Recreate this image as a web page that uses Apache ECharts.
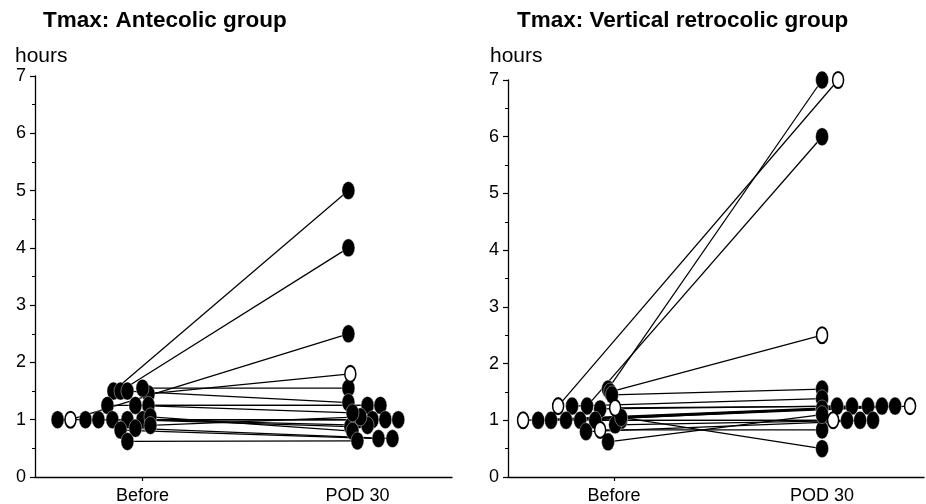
<!DOCTYPE html>
<html><head><meta charset="utf-8">
<script src="https://cdn.jsdelivr.net/npm/echarts@6/dist/echarts.min.js"></script>
<style>html,body{margin:0;padding:0;background:#fff}#c{width:926px;height:504px}</style>
</head><body><div id="c"></div>
<script>
// ---- data ----
const titles = ['Tmax: Antecolic group', 'Tmax: Vertical retrocolic group'];
const yUnit = 'hours';
const xCategories = ['Before', 'POD 30'];   // x = 1 and x = 2
const yTicks = [0, 1, 2, 3, 4, 5, 6, 7];

// Antecolic group: paired values, x = category position incl. jitter
const anteBeforeX = [0.865,0.898,0.665,1.028,1.000,0.930,0.837,1.028,0.605,0.735,0.795,0.860,0.930,1.000,1.037,0.898,0.967,0.930,1.037,0.967];
const anteBeforeY = [1.5,1.5,1.0,1.45,1.55,1.5,1.25,1.25,1.0,1.0,1.0,1.0,1.0,1.0,1.05,0.82,0.85,0.62,0.9,1.25];
const anteAfterX  = [1.958,1.958,1.958,1.967,1.958,1.958,2.047,2.107,2.005,2.070,2.130,2.190,1.967,2.047,1.977,2.098,2.163,2.000,2.014,1.977];
const anteAfterY  = [5.0,4.0,2.5,1.8,1.55,1.3,1.25,1.25,1.0,1.0,1.0,1.0,0.88,0.9,0.8,0.67,0.67,0.63,1.05,1.12];
const anteBeforeOpen = [0,0,1,0,0,0,0,0,0,0,0,0,0,0,0,0,0,0,0,0];
const anteAfterOpen  = [0,0,0,1,0,0,0,0,0,0,0,0,0,0,0,0,0,0,0,0];

// Vertical retrocolic group
const retroBeforeX = [0.971,0.731,0.870,0.981,0.990,0.798,0.933,1.005,0.5625,0.635,0.697,0.769,0.837,0.909,1.034,1.005,0.865,0.933,0.971,1.034];
const retroBeforeY = [1.55,1.25,1.25,1.5,1.45,1.25,1.2,1.22,1.0,1.0,1.0,1.0,1.0,1.0,1.0,0.92,0.8,0.83,0.62,1.05];
const retroAfterX  = [2.000,2.077,2.000,2.000,2.000,2.000,2.072,2.144,2.221,2.288,2.351,2.423,2.000,2.053,2.120,2.183,2.245,2.000,2.000,2.000];
const retroAfterY  = [7.0,7.0,6.0,2.5,1.55,1.38,1.25,1.25,1.25,1.25,1.25,1.25,1.2,1.0,1.0,1.0,1.0,0.83,1.1,0.5];
const retroBeforeOpen = [0,1,0,0,0,0,0,1,1,0,0,0,0,0,0,0,0,1,0,0];
const retroAfterOpen  = [0,1,0,1,0,0,0,0,0,0,0,1,0,1,0,0,0,0,0,0];

// ---- chart ----
const FONT = '"Liberation Sans", Arial, Helvetica, sans-serif';
const panels = [
  {bx: anteBeforeX, by: anteBeforeY, ax: anteAfterX, ay: anteAfterY, bo: anteBeforeOpen, ao: anteAfterOpen},
  {bx: retroBeforeX, by: retroBeforeY, ax: retroAfterX, ay: retroAfterY, bo: retroBeforeOpen, ao: retroAfterOpen}
];
const grids = [
  {left: 35, top: 76, width: 417, height: 401, xmin: 0.5, xmax: 2.44},
  {left: 508, top: 80, width: 416, height: 397, xmin: 0.49, xmax: 2.49}
];

const series = [];
panels.forEach((p, k) => {
  for (let i = 0; i < p.bx.length; i++) {
    series.push({
      type: 'line', xAxisIndex: k, yAxisIndex: k, silent: true, animation: false,
      symbol: 'none', z: 2,
      lineStyle: {color: '#000', width: 1.25},
      data: [[p.bx[i], p.by[i]], [p.ax[i], p.ay[i]]]
    });
  }
  const filled = [], open = [];
  for (let i = 0; i < p.bx.length; i++) {
    (p.bo[i] ? open : filled).push([p.bx[i], p.by[i]]);
    (p.ao[i] ? open : filled).push([p.ax[i], p.ay[i]]);
  }
  series.push({
    type: 'scatter', xAxisIndex: k, yAxisIndex: k, silent: true, animation: false, z: 3,
    symbol: 'circle', symbolSize: [13, 18],
    itemStyle: {color: '#000', borderColor: '#fff', borderWidth: 0.4, opacity: 1},
    data: filled
  });
  series.push({
    type: 'scatter', xAxisIndex: k, yAxisIndex: k, silent: true, animation: false, z: 4,
    symbol: 'circle', symbolSize: [11, 16],
    itemStyle: {color: '#fff', borderColor: '#000', borderWidth: 1.8, opacity: 1},
    data: open
  });
});

const option = {
  backgroundColor: '#fff',
  animation: false,
  graphic: [
    {type: 'text', x: 43, y: 21, style: {text: titles[0], font: 'bold 22.5px ' + FONT, fill: '#000', textVerticalAlign: 'middle'}},
    {type: 'text', x: 517, y: 21, style: {text: titles[1], font: 'bold 22.5px ' + FONT, fill: '#000', textVerticalAlign: 'middle'}},
    {type: 'text', x: 15, y: 56, style: {text: yUnit, font: '21px ' + FONT, fill: '#000', textVerticalAlign: 'middle'}},
    {type: 'text', x: 490, y: 56, style: {text: yUnit, font: '21px ' + FONT, fill: '#000', textVerticalAlign: 'middle'}}
  ],
  grid: grids.map(g => ({left: g.left, top: g.top, width: g.width, height: g.height, outerBoundsMode: 'none', containLabel: false})),
  xAxis: grids.map((g, k) => ({
    type: 'value', gridIndex: k, min: g.xmin, max: g.xmax,
    axisLine: {show: true, onZero: false, lineStyle: {color: '#000', width: 1.3}},
    axisTick: {show: true, customValues: [1], length: 4, lineStyle: {color: '#000', width: 1.2}},
    axisLabel: {show: true, customValues: [1, 2], formatter: v => xCategories[Math.round(v) - 1],
      color: '#000', fontSize: 18, fontFamily: FONT, margin: 10},
    splitLine: {show: false}
  })),
  yAxis: grids.map((g, k) => ({
    type: 'value', gridIndex: k, min: yTicks[0], max: yTicks[yTicks.length - 1], interval: 1,
    axisLine: {show: true, onZero: false, lineStyle: {color: '#000', width: 1.3}},
    axisTick: {show: true, length: 5, lineStyle: {color: '#000', width: 1.2}},
    minorTick: {show: true, splitNumber: 2, length: 3, lineStyle: {color: '#000', width: 1}},
    axisLabel: {color: '#000', fontSize: 18, fontFamily: FONT, margin: 9},
    splitLine: {show: false}, minorSplitLine: {show: false}
  })),
  series: series
};

const chart = echarts.init(document.getElementById('c'), null, {renderer: 'canvas'});
chart.setOption(option);
</script>
</body></html>
